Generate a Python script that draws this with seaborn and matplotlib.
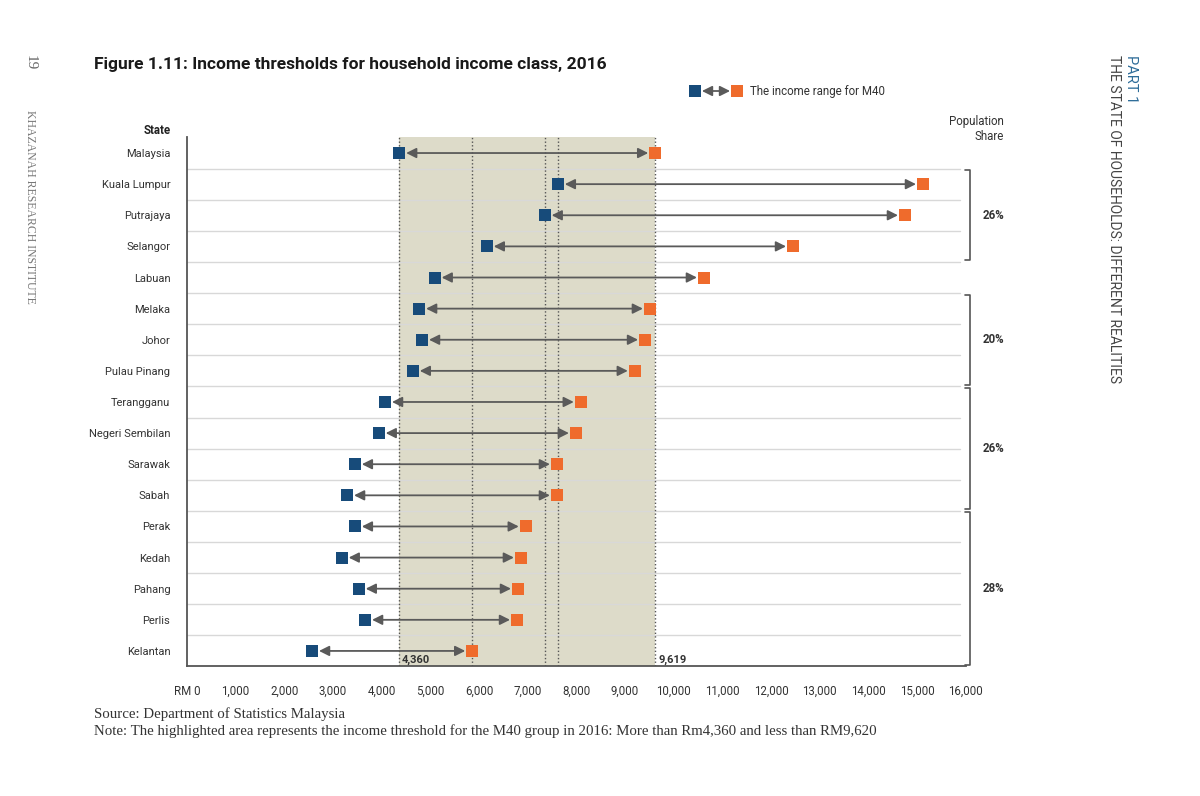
import numpy as np
import pandas as pd
import matplotlib
matplotlib.use('Agg')
import matplotlib.pyplot as plt
import seaborn as sns

# values (RM per month)
states = ['Malaysia', 'Kuala Lumpur', 'Putrajaya', 'Selangor', 'Labuan', 'Melaka', 'Johor',
          'Pulau Pinang', 'Terangganu', 'Negeri Sembilan', 'Sarawak', 'Sabah', 'Perak',
          'Kedah', 'Pahang', 'Perlis', 'Kelantan']
m40_lower = [4360, 7620, 7350, 6160, 5090, 4770, 4830, 4640, 4070, 3940,
             3450, 3290, 3450, 3180, 3530, 3660, 2570]
m40_upper = [9619, 15120, 14750, 12450, 10620, 9510, 9410, 9200, 8090, 7990,
             7600, 7600, 6960, 6860, 6800, 6780, 5860]

share_labels = ['26%', '20%', '26%', '28%']
share_first = ['Kuala Lumpur', 'Melaka', 'Terangganu', 'Perak']
share_last = ['Selangor', 'Pulau Pinang', 'Sabah', 'Kelantan']

x_ticks = list(range(0, 16001, 1000))
x_ticklabels = ['RM 0'] + [f'{v:,}' for v in x_ticks[1:]]

BLUE = '#174b7a'
ORANGE = '#ef6b2c'
ARROW = '#5a5a5a'
SHADE = '#dddbc9'

sns.set_style('white')
plt.rcParams['font.family'] = ['Roboto', 'DejaVu Sans']
serif = ['Liberation Serif', 'DejaVu Serif']

df = pd.DataFrame({'state': states, 'lower': m40_lower, 'upper': m40_upper})
df['row'] = np.arange(len(df))

fig = plt.figure(figsize=(12, 7.96), dpi=100)
ax = fig.add_axes([0.1558, 0.1627, 0.649, 0.6646])

# highlighted M40 band for Malaysia
lo_my, hi_my = df.loc[0, 'lower'], df.loc[0, 'upper']
ax.axvspan(lo_my, hi_my, color=SHADE, lw=0, zorder=0)

# row separators
for r in df['row'][:-1]:
    ax.axhline(r + 0.5, xmax=0.992, color='#d8d8d8', lw=1, zorder=1)

# dotted reference lines
idx = df.set_index('state')
dotted = [lo_my, hi_my, idx.loc['Kelantan', 'upper'], idx.loc['Putrajaya', 'lower'],
          idx.loc['Kuala Lumpur', 'lower']]
for v in dotted:
    ax.axvline(v, color='#555555', ls=(0, (1, 1.6)), lw=1, zorder=2)

# double arrows
for _, r in df.iterrows():
    ax.annotate('', xy=(r['upper'], r['row']), xytext=(r['lower'], r['row']),
                arrowprops=dict(arrowstyle='<|-|>,head_length=0.6,head_width=0.3',
                                color=ARROW, lw=1.3, shrinkA=5, shrinkB=5),
                zorder=3)

sns.scatterplot(data=df, x='lower', y='row', marker='s', s=68, color=BLUE,
                linewidth=0, zorder=4, ax=ax, legend=False)
sns.scatterplot(data=df, x='upper', y='row', marker='s', s=68, color=ORANGE,
                linewidth=0, zorder=4, ax=ax, legend=False)

ax.set_xlim(0, 16000)
ax.set_ylim(len(df) - 0.5, -0.5)
ax.set_xticks(x_ticks)
ax.set_xticklabels(x_ticklabels)
ax.set_yticks(df['row'])
ax.set_yticklabels(df['state'])
ax.set_xlabel('')
ax.set_ylabel('')
ax.tick_params(axis='x', length=0, pad=13, labelsize=8.3, labelcolor='#333333')
ax.tick_params(axis='y', length=0, pad=12, labelsize=8, labelcolor='#333333')
for s in ['top', 'right']:
    ax.spines[s].set_visible(False)
for s in ['left', 'bottom']:
    ax.spines[s].set_color('#555555')
    ax.spines[s].set_linewidth(1.3)

# threshold values
ax.text(lo_my + 60, len(df) - 0.55, f'{lo_my:,}', fontsize=8, fontweight='bold',
        color='#333333', ha='left', va='bottom')
ax.text(hi_my + 60, len(df) - 0.55, f'{hi_my:,}', fontsize=8, fontweight='bold',
        color='#333333', ha='left', va='bottom')

# population share brackets
trans = ax.get_yaxis_transform()
for lab, a, b in zip(share_labels, share_first, share_last):
    y0 = idx.loc[a, 'row'] - 0.45
    y1 = idx.loc[b, 'row'] + 0.45
    ax.plot([0.999, 1.005, 1.005, 0.999], [y0, y0, y1, y1], color='#555555', lw=1.2,
            transform=trans, clip_on=False)
    ax.text(1.035, (y0 + y1) / 2, lab, transform=trans, fontsize=8.3, fontweight='bold',
            color='#333333', ha='center', va='center')

fig.text(171 / 1200, 1 - 131 / 796, 'State', fontsize=8.3, fontweight='bold',
         color='#222222', ha='right', va='center')
fig.text(1004 / 1200, 1 - 129 / 796, 'Population\nShare', fontsize=8.3, color='#333333',
         ha='right', va='center', linespacing=1.3)

# legend
ly = 1 - 91 / 796
ax.plot([695 / 1200], [ly], marker='s', ms=8, color=BLUE, mew=0,
        transform=fig.transFigure, clip_on=False)
ax.plot([737 / 1200], [ly], marker='s', ms=8, color=ORANGE, mew=0,
        transform=fig.transFigure, clip_on=False)
ax.annotate('', xy=(737 / 1200, ly), xytext=(695 / 1200, ly),
            xycoords='figure fraction', textcoords='figure fraction',
            arrowprops=dict(arrowstyle='<|-|>,head_length=0.6,head_width=0.3',
                            color=ARROW, lw=1.3, shrinkA=5, shrinkB=5))
fig.text(750 / 1200, ly, 'The income range for M40', fontsize=8.3, color='#333333',
         ha='left', va='center')

# title and page furniture
fig.text(94 / 1200, 1 - 64 / 796, 'Figure 1.11: Income thresholds for household income class, 2016',
         fontsize=12.5, fontweight='bold', color='#1a1a1a', ha='left', va='center')
fig.text(30 / 1200, 1 - 55 / 796, '19', family=serif, fontsize=11, color='#666666',
         rotation=-90, ha='center', va='top')
fig.text(30 / 1200, 1 - 110 / 796, 'KHAZANAH RESEARCH INSTITUTE', family=serif, fontsize=8.5,
         color='#777777', rotation=-90, ha='center', va='top')
fig.text(1131 / 1200, 1 - 55 / 796, 'PART 1', fontsize=10.5, color='#2f6d99',
         rotation=-90, ha='center', va='top')
fig.text(1114 / 1200, 1 - 55 / 796, 'THE STATE OF HOUSEHOLDS: DIFFERENT REALITIES', fontsize=10,
         color='#444444', rotation=-90, ha='center', va='top')

fig.text(94 / 1200, 1 - 714 / 796, 'Source: Department of Statistics Malaysia', family=serif,
         fontsize=10.7, color='#333333', ha='left', va='center')
fig.text(94 / 1200, 1 - 731 / 796,
         'Note: The highlighted area represents the income threshold for the M40 group in 2016: '
         'More than Rm4,360 and less than RM9,620',
         family=serif, fontsize=10.7, color='#333333', ha='left', va='center')

fig.savefig('out.png', dpi=100)
